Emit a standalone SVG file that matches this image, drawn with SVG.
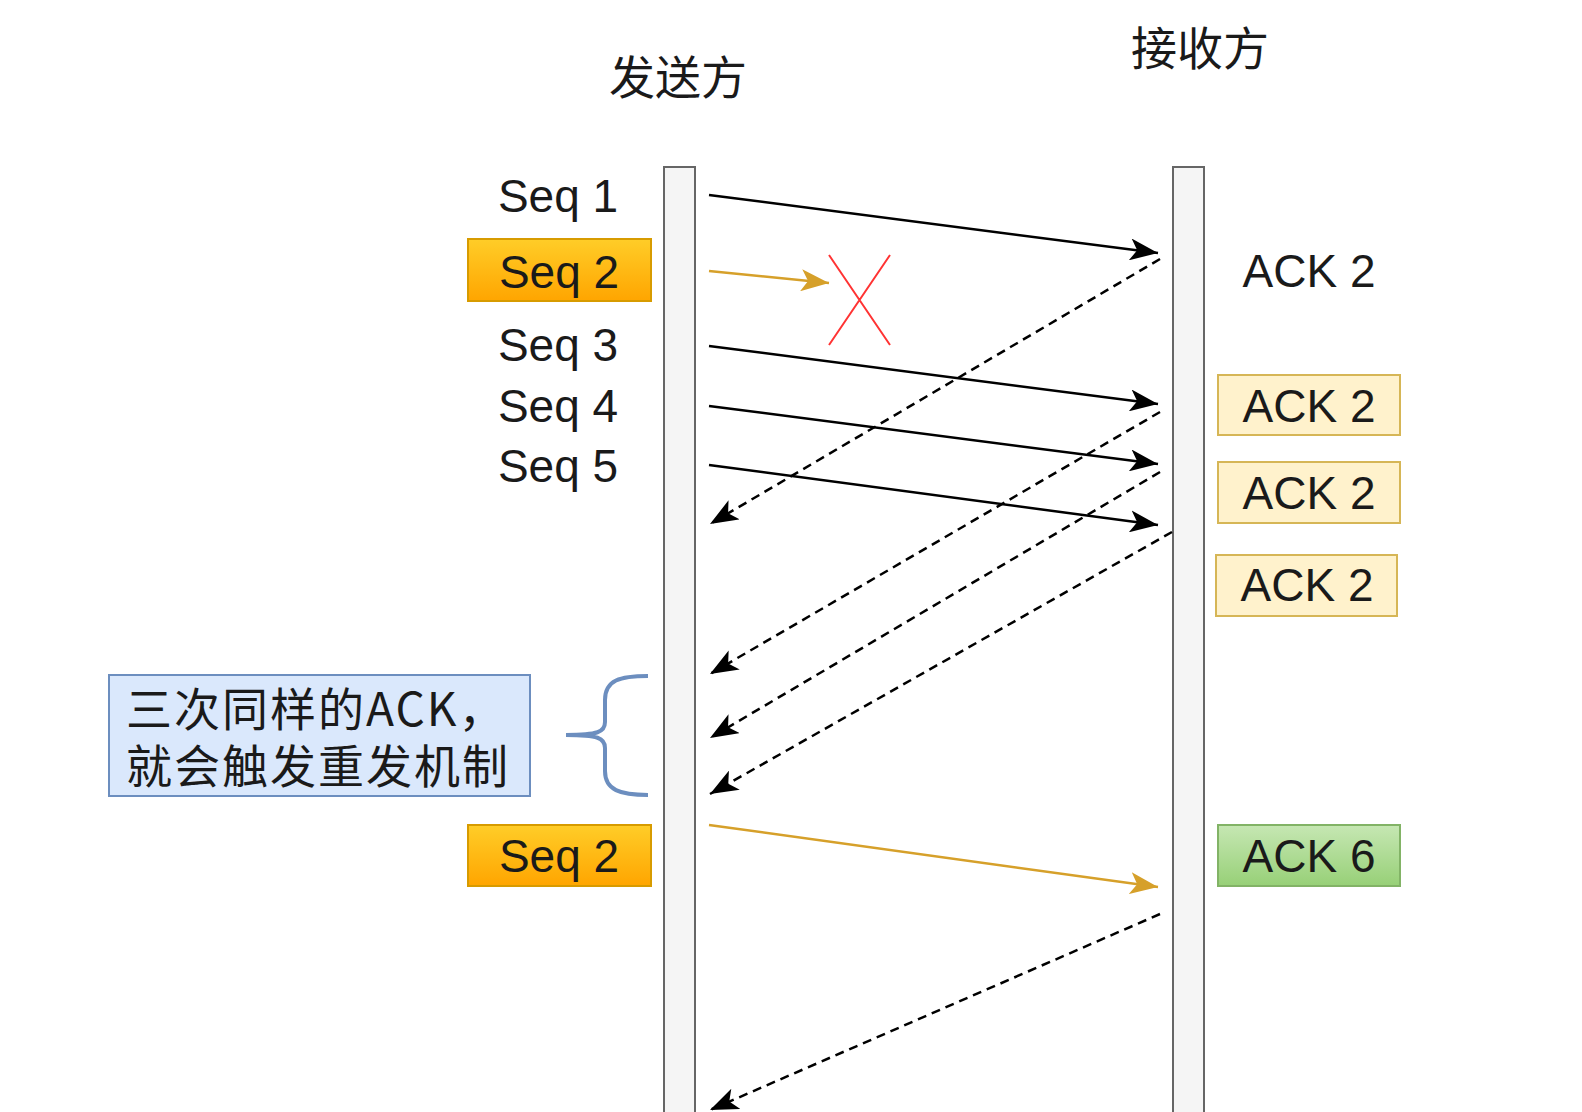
<svg xmlns="http://www.w3.org/2000/svg" width="1582" height="1112" viewBox="0 0 1582 1112">
<style>
.lbl{font-family:"Liberation Sans",Arial,sans-serif;font-size:46px;fill:#1a1a1a;text-anchor:middle}
.cjk{font-family:"Noto Sans CJK SC","Liberation Sans",sans-serif;font-size:46px;fill:#1a1a1a}
.note{letter-spacing:2px}
.life{fill:#f5f5f5;stroke:#666666;stroke-width:2}
.ack{fill:#fff2cc;stroke:#d6b656;stroke-width:2}
.msg{stroke:#000;stroke-width:2.5;fill:none;marker-end:url(#ah)}
.ret{stroke:#000;stroke-width:2.5;fill:none;stroke-dasharray:9 6;marker-end:url(#ah)}
.org{stroke:#d6a02a;stroke-width:2.5;fill:none;marker-end:url(#aho)}
</style>
<defs>
<linearGradient id="gOrange" x1="0" y1="0" x2="0" y2="1"><stop offset="0" stop-color="#ffcd28"/><stop offset="1" stop-color="#ffa500"/></linearGradient>
<linearGradient id="gGreen" x1="0" y1="0" x2="0" y2="1"><stop offset="0" stop-color="#c6e7b3"/><stop offset="1" stop-color="#97d077"/></linearGradient>
<marker id="ah" viewBox="0 0 28 22" refX="28" refY="11" markerWidth="28" markerHeight="22" markerUnits="userSpaceOnUse" orient="auto"><path d="M0,0 L28,11 L0,22 L7,11 Z" fill="#000"/></marker>
<marker id="aho" viewBox="0 0 28 22" refX="28" refY="11" markerWidth="28" markerHeight="22" markerUnits="userSpaceOnUse" orient="auto"><path d="M0,0 L28,11 L0,22 L7,11 Z" fill="#d6a02a"/></marker>
</defs>
<rect width="1582" height="1112" fill="#ffffff"/>

<g id="sender-title"><text class="cjk" x="678" y="94" text-anchor="middle">发送方</text></g>
<g id="receiver-title"><text class="cjk" x="1200" y="65" text-anchor="middle">接收方</text></g>

<g id="sender-lifeline"><rect class="life" x="664" y="167" width="31" height="960"/></g>
<g id="receiver-lifeline"><rect class="life" x="1173" y="167" width="31" height="960"/></g>

<g id="seq1"><text class="lbl" x="558" y="212">Seq 1</text></g>
<g id="seq2"><rect x="468" y="239" width="183" height="62" fill="url(#gOrange)" stroke="#d79b00" stroke-width="2"/><text class="lbl" x="559" y="288">Seq 2</text></g>
<g id="seq3"><text class="lbl" x="558" y="361">Seq 3</text></g>
<g id="seq4"><text class="lbl" x="558" y="422">Seq 4</text></g>
<g id="seq5"><text class="lbl" x="558" y="482">Seq 5</text></g>
<g id="seq2-retx"><rect x="468" y="825" width="183" height="61" fill="url(#gOrange)" stroke="#d79b00" stroke-width="2"/><text class="lbl" x="559" y="872">Seq 2</text></g>

<g id="ack-plain"><text class="lbl" x="1309" y="287">ACK 2</text></g>
<g id="ack-box1"><rect class="ack" x="1218" y="375" width="182" height="60"/><text class="lbl" x="1309" y="422">ACK 2</text></g>
<g id="ack-box2"><rect class="ack" x="1218" y="462" width="182" height="61"/><text class="lbl" x="1309" y="509">ACK 2</text></g>
<g id="ack-box3"><rect class="ack" x="1216" y="555" width="181" height="61"/><text class="lbl" x="1307" y="601">ACK 2</text></g>
<g id="ack6"><rect x="1218" y="825" width="182" height="61" fill="url(#gGreen)" stroke="#82b366" stroke-width="2"/><text class="lbl" x="1309" y="872">ACK 6</text></g>

<g id="note"><rect x="109" y="675" width="421" height="121" fill="#dae8fc" stroke="#6c8ebf" stroke-width="2"/><text class="cjk note" x="126" y="726">三次同样的ACK，</text><text class="cjk note" x="126" y="783">就会触发重发机制</text></g>
<g id="brace"><path d="M648,676 C620,676 605,680 605,700 L605,722 C605,732 598,735 566,735 C598,735 605,738 605,748 L605,771 C605,790 620,795 648,795" fill="none" stroke="#6c8ebf" stroke-width="4"/></g>

<g id="loss-mark"><path d="M829,255 L890,345 M890,255 L829,345" stroke="#ff3333" stroke-width="2" fill="none"/></g>

<g id="connectors">
<line class="msg" x1="709" y1="195" x2="1158" y2="253"/>
<line class="org" x1="709" y1="271" x2="829" y2="283"/>
<line class="msg" x1="709" y1="346" x2="1158" y2="404"/>
<line class="msg" x1="709" y1="406" x2="1158" y2="464"/>
<line class="msg" x1="709" y1="465" x2="1158" y2="525"/>
<line class="ret" x1="1160" y1="259" x2="710" y2="524"/>
<line class="ret" x1="1160" y1="412" x2="710" y2="674"/>
<line class="ret" x1="1160" y1="472" x2="710" y2="738"/>
<line class="ret" x1="1172" y1="532" x2="710" y2="794"/>
<line class="org" x1="709" y1="825" x2="1158" y2="887"/>
<line class="ret" x1="1160" y1="914" x2="710" y2="1110"/>
</g>
</svg>
